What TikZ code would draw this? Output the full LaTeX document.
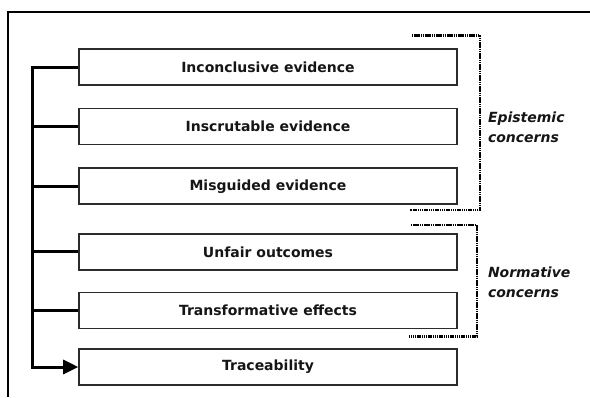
\documentclass[tikz,border=0pt]{standalone}
\usepackage{fontspec}
\setmainfont{DejaVu Sans}
\usetikzlibrary{arrows.meta, positioning, calc}
\definecolor{boxline}{HTML}{2B2B2B}
\definecolor{textdark}{HTML}{151515}
\definecolor{dotline}{HTML}{000000}

\begin{document}
\begin{tikzpicture}[
    >=Stealth,
    every node/.style={inner sep=0pt},
    item/.style={
        draw=boxline, line width=1.6pt,
        minimum width=378pt, minimum height=36pt,
        font=\bfseries\fontsize{14}{16}\selectfont, text=textdark, align=center
    },
    branch/.style={draw=black, line width=3pt},
    bracket/.style={draw=dotline, line width=2.6pt, dash pattern=on 1.5pt off 0.7pt},
    group/.style={font=\bfseries\itshape\fontsize{14}{20}\selectfont, text=textdark, align=left, anchor=west},
]
\useasboundingbox (0,0) rectangle (590pt,-397pt);

% frame, only top and left edges show
\draw[line width=2pt, black] (8pt,-397pt) -- (8pt,-12pt) -- (590pt,-12pt);

% ============ the six items ============
\node[item] (incon) at (268pt,-67pt) {Inconclusive evidence};
\node[item, below=22pt of incon] (inscr) {Inscrutable evidence};
\node[item, below=22pt of inscr] (misg) {Misguided evidence};
\node[item, below=28pt of misg] (unfair) {Unfair outcomes};
\node[item, below=21pt of unfair] (transf) {Transformative effects};
\node[item, below=19pt of transf] (trace) {Traceability};

% ============ trunk and branches ============
\coordinate (trunk) at ([xshift=-46pt]incon.west);
\draw[branch, -{Triangle[length=15pt, width=14pt]}]
    (incon.west) -- (trunk) |- (trace.west);
\foreach \item in {inscr, misg, unfair, transf} {
    \draw[branch] (\item.west) -- (\item.west -| trunk);
}

% ============ Epistemic bracket ============
\coordinate (epiTL) at ([shift={(-46pt,13pt)}]incon.north east);
\coordinate (epiTR) at ([shift={(22pt,13pt)}]incon.north east);
\coordinate (epiBR) at ([shift={(22pt,-5pt)}]misg.south east);
\coordinate (epiBL) at ([shift={(-48pt,-5pt)}]misg.south east);
\draw[bracket] (epiTL) -- (epiTR) -- (epiBR) -- (epiBL);
\node[group] (epi) at ([shift={(8pt,-5pt)}]$(epiTR)!0.5!(epiBR)$) {Epistemic\\concerns};

% ============ Normative bracket ============
\coordinate (norTL) at ([shift={(-47pt,8pt)}]unfair.north east);
\coordinate (norTR) at ([shift={(19pt,8pt)}]unfair.north east);
\coordinate (norBR) at ([shift={(19pt,-7pt)}]transf.south east);
\coordinate (norBL) at ([shift={(-49pt,-7pt)}]transf.south east);
\draw[bracket] (norTL) -- (norTR) -- (norBR) -- (norBL);
\node[group] (nor) at ([shift={(11pt,-2pt)}]$(norTR)!0.5!(norBR)$) {Normative\\concerns};

\end{tikzpicture}
\end{document}
